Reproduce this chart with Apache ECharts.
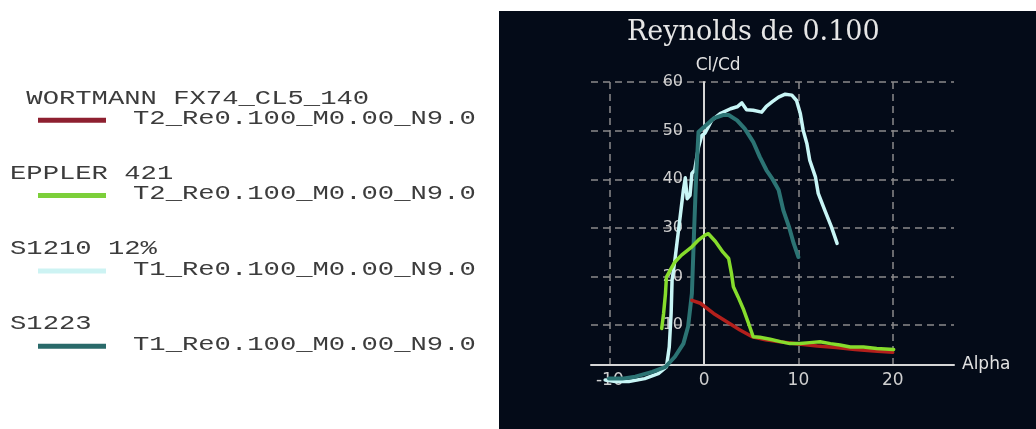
<!DOCTYPE html>
<html>
<head>
<meta charset="utf-8">
<script src="https://cdn.jsdelivr.net/npm/echarts@6/dist/echarts.min.js"></script>
<style>
html, body { margin: 0; padding: 0; background: #ffffff; }
#chart { width: 1036px; height: 429px; }
</style>
</head>
<body>
<div id="chart"></div>
<script>
// ---------------- data ----------------
const titleText = 'Reynolds de 0.100';
const xAxisName = 'Alpha';
const yAxisName = 'Cl/Cd';
const xTickValues = [-10, 0, 10, 20];
const yTickValues = [10, 20, 30, 40, 50, 60];

const seriesNames = [' WORTMANN FX74_CL5_140', 'EPPLER 421', 'S1210 12%', 'S1223'];
const seriesSubLabels = ['T2_Re0.100_M0.00_N9.0', 'T2_Re0.100_M0.00_N9.0', 'T1_Re0.100_M0.00_N9.0', 'T1_Re0.100_M0.00_N9.0'];

const wortmannAlpha = [-1.3, -0.4, 1.0, 2.4, 3.8, 5.1, 6.5, 8.0, 10.0, 12.0, 14.0, 16.0, 18.0, 20.0];
const wortmannClCd  = [15.1, 14.5, 12.4, 10.7, 9.0, 7.6, 7.0, 6.6, 6.1, 5.7, 5.4, 5.0, 4.7, 4.4];

const epplerAlpha = [-4.5, -4.3, -4.1, -4.0, -3.6, -3.1, -2.4, -1.3, -0.6, 0.1, 0.45, 1.2, 2.0, 2.6, 2.9, 3.1, 3.6, 4.2, 4.7, 5.2, 5.9, 7.0, 8.1, 9.1, 10.2, 11.2, 12.3, 13.4, 14.4, 15.5, 16.9, 18.3, 20.1];
const epplerClCd  = [9.3, 12.4, 16.5, 19.9, 21.3, 23.0, 24.4, 26.1, 27.5, 28.5, 28.8, 27.2, 25.0, 23.7, 20.6, 17.9, 15.8, 13.1, 10.4, 7.6, 7.5, 7.1, 6.6, 6.2, 6.2, 6.4, 6.6, 6.2, 5.9, 5.5, 5.5, 5.2, 5.0];

const s1210Alpha = [-10.5, -9.4, -8.0, -6.3, -4.8, -4.0, -3.7, -3.5, -3.4, -3.1, -2.8, -2.5, -2.2, -2.0, -1.8, -1.5, -1.3, -1.0, -0.6, -0.25, 0.1, 0.8, 1.7, 2.8, 3.5, 4.0, 4.5, 5.2, 6.1, 6.6, 7.2, 7.9, 8.6, 9.3, 9.8, 10.2, 10.5, 10.9, 11.2, 11.8, 12.1, 12.8, 13.5, 14.1];
const s1210ClCd  = [-1.3, -1.6, -1.6, -1.0, 0.1, 1.4, 5.5, 12.5, 19.3, 23.4, 28.2, 33.0, 37.8, 40.3, 36.0, 36.7, 41.2, 41.9, 46.6, 49.0, 49.5, 52.1, 53.5, 54.5, 54.9, 55.7, 54.3, 54.2, 53.8, 55.0, 55.9, 56.9, 57.5, 57.3, 56.2, 53.5, 50.1, 47.3, 43.9, 40.5, 37.1, 33.6, 30.2, 26.8];

const s1223Alpha = [-10.1, -8.7, -7.3, -5.5, -4.1, -3.1, -2.2, -1.7, -1.3, -1.05, -0.85, -0.6, -0.1, 1.0, 2.0, 2.6, 3.5, 4.3, 5.2, 5.9, 6.6, 7.2, 7.9, 8.4, 9.0, 9.5, 10.0];
const s1223ClCd  = [-1.0, -1.0, -0.6, 0.4, 1.4, 3.5, 6.2, 9.7, 16.5, 30.2, 40.5, 49.7, 50.6, 52.5, 53.2, 53.2, 52.1, 50.4, 47.7, 44.6, 41.9, 40.2, 37.8, 33.6, 30.2, 26.8, 24.0];

const alphaSets = [wortmannAlpha, epplerAlpha, s1210Alpha, s1223Alpha];
const clcdSets  = [wortmannClCd, epplerClCd, s1210ClCd, s1223ClCd];

// ---------------- styles ----------------
const seriesColors = ['#b3201c', '#86dc2c', '#c8f6f6', '#2c7474'];
const seriesWidths = [3.5, 3.5, 3.5, 4];
const seriesZ = [4, 5, 2, 3];
const legendLineColors = ['#8e2030', '#7ccf3a', '#cdf3f3', '#2a6a6a'];
const panelColor = '#040b18';

const chart = echarts.init(document.getElementById('chart'), null, { renderer: 'canvas' });

const graphicEls = [
  { type: 'rect', shape: { x: 0, y: 0, width: 499, height: 429 }, style: { fill: '#ffffff' }, silent: true },
  { type: 'rect', shape: { x: 0, y: 0, width: 1036, height: 11 }, style: { fill: '#ffffff' }, silent: true }
];
const monoFont = '20px "Liberation Mono", "DejaVu Sans Mono", monospace';
seriesNames.forEach(function (name, i) {
  const nameY = 98.3 + 75.3 * i;
  const lineY = nameY + 22;
  graphicEls.push({
    type: 'text', x: 10, y: nameY, scaleX: 1.36,
    style: { text: name, font: monoFont, fill: '#3c3c3c', align: 'left', verticalAlign: 'middle', textAlign: 'left', textVerticalAlign: 'middle' }
  });
  graphicEls.push({
    type: 'rect', shape: { x: 38, y: lineY - 2.5, width: 68, height: 5 },
    style: { fill: legendLineColors[i] }
  });
  graphicEls.push({
    type: 'text', x: 133, y: lineY - 1.5, scaleX: 1.36,
    style: { text: seriesSubLabels[i], font: monoFont, fill: '#3c3c3c', align: 'left', verticalAlign: 'middle', textAlign: 'left', textVerticalAlign: 'middle' }
  });
});

const series = seriesNames.map(function (name, i) {
  return {
    type: 'line',
    name: name,
    data: alphaSets[i].map(function (a, k) { return [a, clcdSets[i][k]]; }),
    symbol: 'none',
    showSymbol: false,
    clip: false,
    z: seriesZ[i],
    lineStyle: { color: seriesColors[i], width: seriesWidths[i], cap: 'round', join: 'round' },
    itemStyle: { color: seriesColors[i] },
    emphasis: { disabled: true }
  };
});

const labelFont = 'DejaVu Sans';
const axisLineStyle = { color: '#d6d6d6', width: 2 };
const splitStyle = { color: '#8a8a8a', width: 1.5, type: [7, 5] };

chart.setOption({
  animation: false,
  backgroundColor: panelColor,
  title: {
    text: titleText,
    left: 627, top: 19, padding: 0,
    textStyle: { fontFamily: 'DejaVu Serif', fontSize: 27, fontWeight: 'normal', color: '#e6e6e6' }
  },
  legend: { show: false },
  graphic: { elements: graphicEls },
  grid: { left: 591, right: 82, top: 82, bottom: 64, containLabel: false, outerBoundsMode: 'none' },
  xAxis: {
    type: 'value', min: -12, max: 26.5,
    name: xAxisName, nameLocation: 'end', nameGap: 8,
    nameTextStyle: { color: '#e2e2e2', fontFamily: labelFont, fontSize: 17, align: 'left', verticalAlign: 'middle', padding: [0, 0, 40, 0] },
    axisLine: { onZero: false, lineStyle: axisLineStyle },
    axisTick: { show: false, customValues: xTickValues },
    axisLabel: { customValues: xTickValues, color: '#cfcfcf', fontFamily: labelFont, fontSize: 17, margin: 7 },
    splitLine: { show: true, lineStyle: splitStyle }
  },
  yAxis: {
    type: 'value', min: 1.8, max: 60,
    name: yAxisName, nameLocation: 'end', nameGap: 8,
    nameTextStyle: { color: '#e2e2e2', fontFamily: labelFont, fontSize: 17, align: 'center', padding: [0, 0, 0, 28] },
    axisLine: { onZero: true, lineStyle: axisLineStyle },
    axisTick: { show: false, customValues: yTickValues },
    axisLabel: { customValues: yTickValues, color: '#cfcfcf', fontFamily: labelFont, fontSize: 16, margin: -92 },
    splitLine: { show: true, lineStyle: splitStyle }
  },
  series: series
});
</script>
</body>
</html>
